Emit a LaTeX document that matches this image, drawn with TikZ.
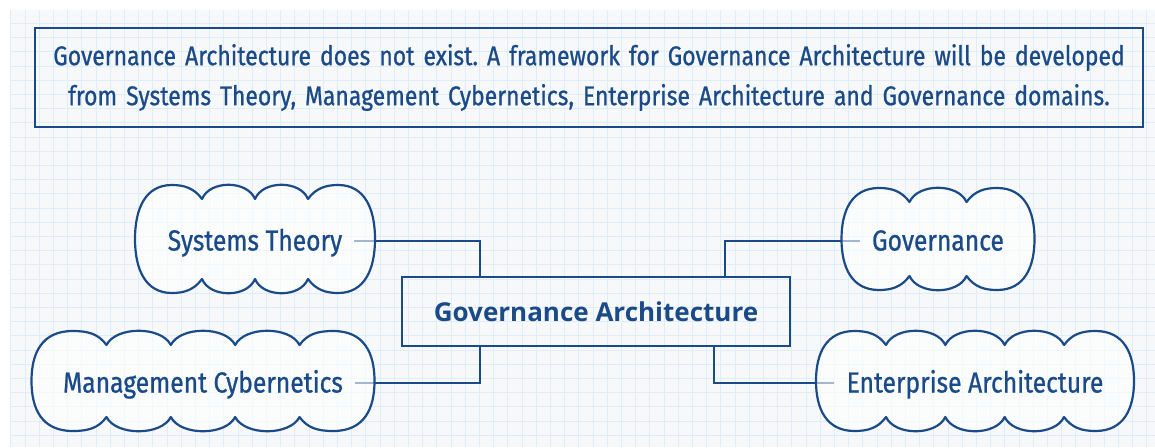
\documentclass[tikz,border=0pt]{standalone}
\usepackage{fontspec}
\setmainfont{Fira Sans}[FakeStretch=0.85, FakeBold=0.8]
\newfontfamily\archfont{Open Sans}
\usepackage{xcolor}
\usepackage{tikz}
\usetikzlibrary{calc}
\frenchspacing

\definecolor{inkblue}{RGB}{26,74,136}
\definecolor{paper}{RGB}{247,248,249}
\definecolor{gridblue}{RGB}{222,237,246}

\pgfdeclarelayer{background}
\pgfsetlayers{background,main}

\tikzset{
  gridline/.style={draw=gridblue, line width=0.9pt},
  wire/.style={draw=inkblue, line width=2.2pt},
  cloudline/.style={draw=inkblue, line width=2.2pt, fill=white, fill opacity=0.6, line join=round},
  topic/.style={text=inkblue, font=\fontsize{29}{32}\selectfont, inner xsep=12pt, inner ysep=0pt, text height=19pt, text depth=0pt},
  notebox/.style={draw=inkblue, line width=1.5pt, text=inkblue, inner sep=0pt,
    minimum width=1108pt, minimum height=99pt, text width=1100pt, align=center,
    font=\fontsize{27}{40}\selectfont},
  archbox/.style={draw=inkblue, line width=2.2pt, text=inkblue, inner sep=0pt,
    minimum width=388pt, minimum height=69pt, font=\archfont\bfseries\fontsize{26}{29}\selectfont}
}

% cloud round a node: node, half width, half height, inner cusps, outer bump width
\newcommand{\cloudaround}[5]{%
  \pgfmathsetmacro{\cloudA}{#2}%
  \pgfmathsetmacro{\cloudB}{#3}%
  \pgfmathsetmacro{\cloudL}{#2-#5}%
  \pgfmathsetmacro{\cloudS}{2*\cloudL/(#4-1)}%
  \draw[cloudline, shift={($(#1.center)+(0,-2)$)}]
    (-\cloudL,{-\cloudB+14})
    \foreach \k [evaluate=\k as \cxa using -\cloudL+(\k-2)*\cloudS, evaluate=\k as \cxb using -\cloudL+(\k-1)*\cloudS] in {2,...,#4}
      { .. controls ({\cxa+0.15*\cloudS},{-\cloudB-5}) and ({\cxb-0.15*\cloudS},{-\cloudB-5}) .. (\cxb,{-\cloudB+14}) }
    .. controls ({\cloudL+8},{-\cloudB+3}) and ({\cloudL+18},-\cloudB) .. ({\cloudL+0.45*#5},-\cloudB)
    .. controls ({\cloudA-10},-\cloudB) and (\cloudA,{-0.55*\cloudB}) .. (\cloudA,0)
    .. controls (\cloudA,{0.55*\cloudB}) and ({\cloudA-10},\cloudB) .. ({\cloudL+0.45*#5},\cloudB)
    .. controls ({\cloudL+18},\cloudB) and ({\cloudL+8},{\cloudB-3}) .. (\cloudL,{\cloudB-14})
    \foreach \k [evaluate=\k as \cxa using \cloudL-(\k-2)*\cloudS, evaluate=\k as \cxb using \cloudL-(\k-1)*\cloudS] in {2,...,#4}
      { .. controls ({\cxa-0.15*\cloudS},{\cloudB+5}) and ({\cxb+0.15*\cloudS},{\cloudB+5}) .. (\cxb,{\cloudB-14}) }
    .. controls ({-\cloudL-8},{\cloudB-3}) and ({-\cloudL-18},\cloudB) .. ({-\cloudL-0.45*#5},\cloudB)
    .. controls ({-\cloudA+10},\cloudB) and (-\cloudA,{0.55*\cloudB}) .. (-\cloudA,0)
    .. controls (-\cloudA,{-0.55*\cloudB}) and ({-\cloudA+10},-\cloudB) .. ({-\cloudL-0.45*#5},-\cloudB)
    .. controls ({-\cloudL-18},-\cloudB) and ({-\cloudL-8},{-\cloudB+3}) .. (-\cloudL,{-\cloudB+14}) -- cycle;
}

\begin{document}
\begin{tikzpicture}[x=1pt, y=-1pt]
\useasboundingbox (0,0) rectangle (1155,447);

% statement
\node[notebox] (note) at (589,77.5) {Governance Architecture does not exist. A framework for Governance Architecture will be developed\\
  from Systems Theory, Management Cybernetics, Enterprise Architecture and Governance domains.};

% topics
\node[archbox] (arch) at (596,311.5) {Governance Architecture};
\node[topic] (systems) at (255,241) {Systems Theory};
\node[topic] (governance) at (938,241) {Governance};
\node[topic] (management) at (203,383) {Management Cybernetics};
\node[topic] (enterprise) at (975,383) {Enterprise Architecture};

\begin{pgfonlayer}{background}
\fill[white] (0,0) rectangle (1155,447);
\fill[paper] (10,10) rectangle (1155,447);
\foreach \gx in {0,...,80} \draw[gridline] ({10.8+14.2*\gx},10) -- ++(0,437);
\foreach \gy in {1,...,30} \draw[gridline] (10,{9.2+14.2*\gy}) -- ++(1145,0);

\draw[wire] (systems.east) -| ($(arch.north west)+(79,0)$);
\draw[wire] (governance.west) -| ($(arch.north east)+(-66,0)$);
\draw[wire] (management.east) -| ($(arch.south west)+(79,0)$);
\draw[wire] (enterprise.west) -| ($(arch.south east)+(-77,0)$);

\cloudaround{systems}{120}{54}{3}{67}
\cloudaround{governance}{96.5}{51}{2}{68}
\cloudaround{management}{171.5}{50}{4}{75}
\cloudaround{enterprise}{159}{50}{4}{70}
\end{pgfonlayer}
\end{tikzpicture}
\end{document}
